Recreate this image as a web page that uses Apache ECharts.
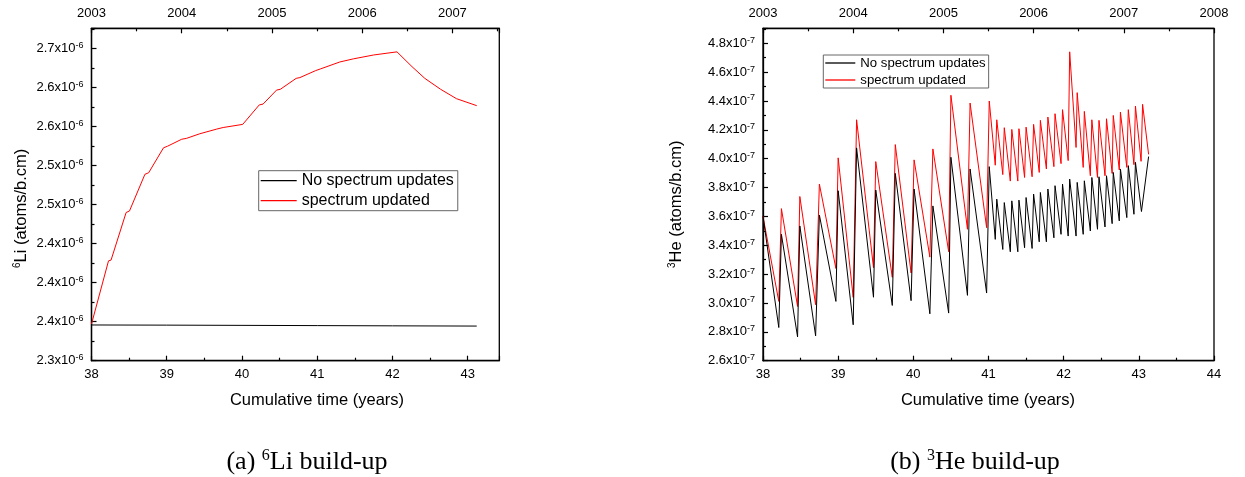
<!DOCTYPE html>
<html>
<head>
<meta charset="utf-8">
<script src="https://cdn.jsdelivr.net/npm/echarts@6/dist/echarts.min.js"></script>
<style>
html,body{margin:0;padding:0;background:#fff;}
#chart{width:1245px;height:477px;}
</style>
</head>
<body>
<div id="chart"></div>
<script>
// ---------- data ----------
// 6Li (units of 1e-6 atoms/b.cm)
const liTimeNoUpdate = [38.00, 39.00, 40.00, 41.00, 42.00, 43.12];
const liNoUpdate = [2.3458, 2.3456, 2.3453, 2.3450, 2.3447, 2.3444];
const liTimeUpdated = [38.00, 38.226, 38.26, 38.46, 38.505, 38.71, 38.76, 38.957, 39.01, 39.20, 39.26, 39.44, 39.665, 39.75, 40.01, 40.23, 40.28, 40.46, 40.51, 40.72, 40.77, 40.98, 41.04, 41.30, 41.48, 41.75, 42.06, 42.26, 42.43, 42.64, 42.85, 43.12];
const liUpdated = [2.347, 2.428, 2.429, 2.490, 2.492, 2.539, 2.541, 2.573, 2.575, 2.584, 2.585, 2.591, 2.597, 2.599, 2.603, 2.628, 2.629, 2.647, 2.648, 2.662, 2.663, 2.672, 2.674, 2.683, 2.687, 2.692, 2.696, 2.677, 2.662, 2.648, 2.636, 2.627];
const liTickLabels = ['2.3', '2.4', '2.4', '2.4', '2.5', '2.5', '2.6', '2.6', '2.7'];

// 3He (units of 1e-7 atoms/b.cm)
const heTimeNoUpdate = [38.00, 38.21, 38.245, 38.46, 38.49, 38.70, 38.75, 38.97, 39.00, 39.20, 39.245, 39.47, 39.50, 39.72, 39.76, 39.97, 40.01, 40.22, 40.26, 40.47, 40.50, 40.72, 40.755, 40.975, 41.01,
  41.09, 41.11, 41.19, 41.21, 41.29, 41.31, 41.39, 41.405, 41.48, 41.50, 41.58, 41.60, 41.675, 41.69, 41.77, 41.79, 41.87, 41.885, 41.965, 41.985,
  42.06, 42.08, 42.165, 42.18, 42.26, 42.275, 42.355, 42.375, 42.45, 42.47, 42.55, 42.57, 42.645, 42.66, 42.74, 42.755, 42.84, 42.86, 42.935, 42.955, 43.035, 43.13];
const heNoUpdate = [3.60, 2.83, 3.476, 2.765, 3.534, 2.772, 3.61, 3.011, 3.778, 2.849, 4.075, 3.04, 3.783, 2.983, 3.898, 3.016, 3.79, 2.925, 3.673, 2.93, 4.01, 3.053, 3.929, 3.069, 3.945,
  3.441, 3.720, 3.371, 3.696, 3.355, 3.708, 3.355, 3.713, 3.383, 3.731, 3.378, 3.755, 3.424, 3.766, 3.424, 3.790, 3.452, 3.813, 3.476, 3.824,
  3.464, 3.859, 3.464, 3.836, 3.476, 3.847, 3.499, 3.870, 3.511, 3.875, 3.527, 3.882, 3.550, 3.905, 3.569, 3.929, 3.592, 3.952, 3.615, 3.975, 3.634, 4.015];
const heTimeUpdated = [38.00, 38.21, 38.245, 38.46, 38.49, 38.70, 38.75, 38.97, 39.00, 39.20, 39.245, 39.47, 39.50, 39.72, 39.76, 39.97, 40.01, 40.22, 40.26, 40.47, 40.50, 40.72, 40.755, 40.975, 41.01,
  41.09, 41.11, 41.19, 41.21, 41.29, 41.31, 41.39, 41.405, 41.48, 41.50, 41.58, 41.60, 41.675, 41.69, 41.77, 41.79, 41.87, 41.885, 41.965, 41.985,
  42.06, 42.08, 42.165, 42.18, 42.26, 42.275, 42.355, 42.375, 42.45, 42.47, 42.55, 42.57, 42.645, 42.66, 42.74, 42.755, 42.84, 42.86, 42.935, 42.955, 43.03, 43.05, 43.13];
const heUpdated = [3.60, 3.011, 3.654, 2.976, 3.738, 2.988, 3.824, 3.239, 4.006, 3.039, 4.27, 3.245, 3.98, 3.178, 4.098, 3.208, 3.992, 3.318, 4.068, 3.355, 4.44, 3.511, 4.386, 3.522, 4.40,
  3.955, 4.270, 3.890, 4.215, 3.845, 4.203, 3.845, 4.208, 3.870, 4.219, 3.875, 4.238, 3.905, 4.266, 3.929, 4.289, 3.945, 4.312, 3.966, 4.340,
  3.987, 4.741, 4.078, 4.458, 3.940, 4.328, 3.882, 4.270, 3.870, 4.266, 3.882, 4.277, 3.898, 4.300, 3.922, 4.323, 3.940, 4.340, 3.959, 4.365, 3.982, 4.377, 4.030];

const seriesNames = ['No spectrum updates', 'spectrum updated'];
const xTitle = 'Cumulative time (years)';

// ---------- helpers ----------
const pairs = (xs, ys) => xs.map((x, i) => [x, ys[i]]);
const FONT = 'Liberation Sans, Arial, sans-serif';
const SERIF = 'Liberation Serif, serif';
const intLabel = v => Math.abs(v - Math.round(v)) < 1e-6 ? String(Math.round(v)) : '';
const richSup = { n: { fontSize: 13, color: '#000', fontFamily: FONT, lineHeight: 15 },
                  s: { fontSize: 9, color: '#000', fontFamily: FONT, verticalAlign: 'top', lineHeight: 9 } };

function xAxisBottom(grid, max) {
  return { type: 'value', gridIndex: grid, position: 'bottom', min: 38, max: max, interval: 1,
    axisLine: { show: true, onZero: false, lineStyle: { color: '#000', width: 1.3 } },
    axisTick: { show: true, inside: true, length: 5, lineStyle: { color: '#000', width: 1.2 } },
    minorTick: { show: true, splitNumber: 2, length: 3, lineStyle: { color: '#000', width: 1.2 } },
    splitLine: { show: false },
    axisLabel: { formatter: intLabel, margin: 7, fontSize: 13, color: '#000', fontFamily: FONT } };
}
function xAxisTop(grid, max) {
  return { type: 'value', gridIndex: grid, position: 'top', min: 2003, max: max, interval: 1,
    axisLine: { show: true, onZero: false, lineStyle: { color: '#000', width: 1.3 } },
    axisTick: { show: true, inside: true, length: 5, lineStyle: { color: '#000', width: 1.2 } },
    minorTick: { show: true, splitNumber: 2, length: 3, lineStyle: { color: '#000', width: 1.2 } },
    splitLine: { show: false },
    axisLabel: { formatter: intLabel, margin: 8, fontSize: 13, color: '#000', fontFamily: FONT } };
}

const chart = echarts.init(document.getElementById('chart'), null, { renderer: 'canvas' });

const option = {
  backgroundColor: '#fff',
  animation: false,
  grid: [
    { left: 91.5, top: 28.3, width: 407.8, height: 332.4, show: true, borderColor: '#000', borderWidth: 1.3, backgroundColor: 'transparent' },
    { left: 763, top: 28.3, width: 451, height: 332.4, show: true, borderColor: '#000', borderWidth: 1.3, backgroundColor: 'transparent' }
  ],
  xAxis: [
    xAxisBottom(0, 43.42),
    xAxisTop(0, 2007.52),
    xAxisBottom(1, 44),
    xAxisTop(1, 2008)
  ],
  yAxis: [
    { type: 'value', gridIndex: 0, min: 2.30, max: 2.7262, interval: 0.05,
      axisLine: { show: true, onZero: false, lineStyle: { color: '#000', width: 1.3 } },
      axisTick: { show: true, inside: true, length: 5, lineStyle: { color: '#000', width: 1.2 } },
      minorTick: { show: true, splitNumber: 2, length: 3, lineStyle: { color: '#000', width: 1.2 } },
      splitLine: { show: false },
      axisLabel: { margin: 8, rich: richSup, formatter: v => {
        const idx = Math.round((v - 2.30) / 0.05);
        if (Math.abs(v - (2.30 + idx * 0.05)) > 1e-6 || idx < 0 || idx >= liTickLabels.length) return '';
        return '{n|' + liTickLabels[idx] + 'x10}{s|-6}';
      } } },
    { type: 'value', gridIndex: 1, min: 2.6, max: 4.904, interval: 0.2,
      axisLine: { show: true, onZero: false, lineStyle: { color: '#000', width: 1.3 } },
      axisTick: { show: true, inside: true, length: 5, lineStyle: { color: '#000', width: 1.2 } },
      minorTick: { show: true, splitNumber: 2, length: 3, lineStyle: { color: '#000', width: 1.2 } },
      splitLine: { show: false },
      axisLabel: { margin: 8, rich: richSup, formatter: v => {
        const k = Math.round(v / 0.2);
        if (Math.abs(v - k * 0.2) > 1e-6) return '';
        return '{n|' + (k * 0.2).toFixed(1) + 'x10}{s|-7}';
      } } }
  ],
  legend: [
    { left: 258.7, top: 170.7, orient: 'vertical', data: seriesNames, selectedMode: false, icon: 'rect',
      borderColor: '#666', borderWidth: 1, padding: [2, 4, 2, 2], itemGap: 4, itemWidth: 36, itemHeight: 1.3,
      textStyle: { fontSize: 16, color: '#000', fontFamily: FONT, lineHeight: 16 } },
    { left: 823.3, top: 55, orient: 'vertical', data: seriesNames, selectedMode: false, icon: 'rect',
      borderColor: '#666', borderWidth: 1, padding: [1, 3, 1, 2], itemGap: 3, itemWidth: 30, itemHeight: 1.3,
      textStyle: { fontSize: 13.2, color: '#000', fontFamily: FONT, lineHeight: 14 } }
  ],
  series: [
    { name: seriesNames[0], type: 'line', xAxisIndex: 0, yAxisIndex: 0, data: pairs(liTimeNoUpdate, liNoUpdate),
      symbol: 'none', lineStyle: { color: '#000', width: 1 }, itemStyle: { color: '#000' } },
    { name: seriesNames[1], type: 'line', xAxisIndex: 0, yAxisIndex: 0, data: pairs(liTimeUpdated, liUpdated),
      symbol: 'none', lineStyle: { color: '#ff0000', width: 1 }, itemStyle: { color: '#ff0000' } },
    { name: seriesNames[1], type: 'line', xAxisIndex: 2, yAxisIndex: 1, data: pairs(heTimeUpdated, heUpdated),
      symbol: 'none', lineStyle: { color: '#ff0000', width: 1 }, itemStyle: { color: '#ff0000' } },
    { name: seriesNames[0], type: 'line', xAxisIndex: 2, yAxisIndex: 1, data: pairs(heTimeNoUpdate, heNoUpdate),
      symbol: 'none', lineStyle: { color: '#000', width: 1 }, itemStyle: { color: '#000' } }
  ],
  graphic: [
    { type: 'text', x: 317, y: 400, style: { text: xTitle, fill: '#000', font: '16.5px ' + FONT, align: 'center', verticalAlign: 'middle', textAlign: 'center', textVerticalAlign: 'middle' } },
    { type: 'text', x: 988, y: 400, style: { text: xTitle, fill: '#000', font: '16.5px ' + FONT, align: 'center', verticalAlign: 'middle', textAlign: 'center', textVerticalAlign: 'middle' } },
    { type: 'text', x: 21, y: 268, rotation: Math.PI / 2,
      style: { text: '{s|6}{n|Li (atoms/b.cm)}', align: 'left', verticalAlign: 'middle', textAlign: 'left', textVerticalAlign: 'middle',
        rich: { n: { fontSize: 16.5, fontFamily: FONT, fill: '#000', lineHeight: 18 }, s: { fontSize: 10, fontFamily: FONT, fill: '#000', verticalAlign: 'top', lineHeight: 10 } } } },
    { type: 'text', x: 676, y: 268, rotation: Math.PI / 2,
      style: { text: '{s|3}{n|He (atoms/b.cm)}', align: 'left', verticalAlign: 'middle', textAlign: 'left', textVerticalAlign: 'middle',
        rich: { n: { fontSize: 16.5, fontFamily: FONT, fill: '#000', lineHeight: 18 }, s: { fontSize: 10, fontFamily: FONT, fill: '#000', verticalAlign: 'top', lineHeight: 10 } } } },
    { type: 'text', x: 307, y: 462,
      style: { text: '{n|(a) }{s|6}{n|Li build-up}', align: 'center', verticalAlign: 'middle', textAlign: 'center', textVerticalAlign: 'middle',
        rich: { n: { fontSize: 26, fontFamily: SERIF, fill: '#000', lineHeight: 28 }, s: { fontSize: 16, fontFamily: SERIF, fill: '#000', verticalAlign: 'top', lineHeight: 16 } } } },
    { type: 'text', x: 975, y: 462,
      style: { text: '{n|(b) }{s|3}{n|He build-up}', align: 'center', verticalAlign: 'middle', textAlign: 'center', textVerticalAlign: 'middle',
        rich: { n: { fontSize: 26, fontFamily: SERIF, fill: '#000', lineHeight: 28 }, s: { fontSize: 16, fontFamily: SERIF, fill: '#000', verticalAlign: 'top', lineHeight: 16 } } } }
  ]
};
chart.setOption(option);
</script>
</body>
</html>
